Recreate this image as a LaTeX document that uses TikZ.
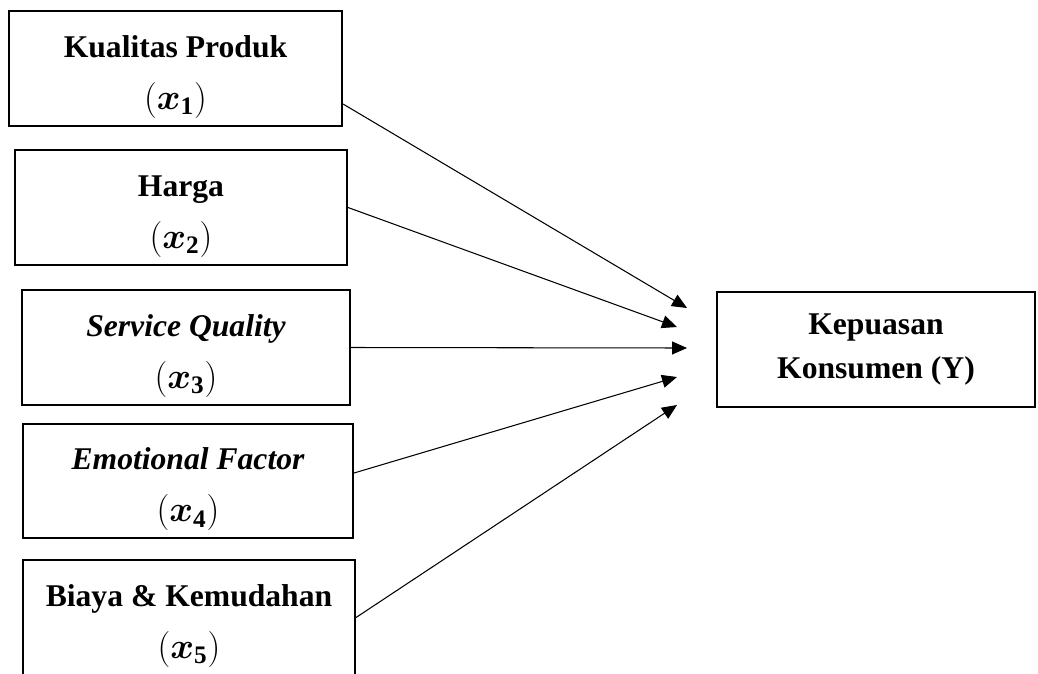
\RequirePackage{fix-cm}
\documentclass[tikz,border=0pt]{standalone}
\usepackage{amsmath}
\usepackage{fontspec}
\setmainfont{Liberation Serif}
\usetikzlibrary{arrows.meta}
\newcommand{\xvar}[1]{{\fontsize{20.5}{29.5}\selectfont$(\boldsymbol{x}_{\mathbf{#1}})$}}
\newcommand{\topstrut}{\rule{0pt}{22pt}}
\begin{document}
\begin{tikzpicture}[x=0.02cm,y=-0.02cm,font=\fontsize{18}{29.5}\selectfont\bfseries,
    varbox/.style={draw,line width=1.2pt,align=center,minimum height=2.3cm,inner sep=0pt},
    link/.style={line width=0.6pt,-{Triangle[length=3mm,width=2.6mm]}}]
  \useasboundingbox (0,0) rectangle (1038,673);
  \clip (0,0) rectangle (1038,673);
  \node[varbox,minimum width=6.66cm] (kualitas) at (175.5,68.5) {\topstrut Kualitas Produk\\\xvar{1}};
  \node[varbox,minimum width=6.64cm] (harga) at (181,207.5) {\topstrut Harga\\\xvar{2}};
  \node[varbox,minimum width=6.56cm] (service) at (186,347.5) {\topstrut\itshape Service Quality\\\xvar{3}};
  \node[varbox,minimum width=6.6cm,minimum height=2.28cm] (emosi) at (188,481) {\topstrut\itshape Emotional Factor\\\xvar{4}};
  \node[varbox,minimum width=6.64cm] (biaya) at (189,617.5) {\topstrut Biaya \& Kemudahan\\\xvar{5}};
  \node[varbox,minimum width=6.36cm,font=\fontsize{18}{25.5}\selectfont\bfseries] (kepuasan) at (876,349.5) {Kepuasan\\Konsumen (Y)};
  \coordinate (t1) at (687,308);
  \coordinate (t2) at (677,327);
  \coordinate (t3) at (687,348);
  \coordinate (t4) at (677,377);
  \coordinate (t5) at (677,405);
  \draw[link] ([yshift=-0.71cm]kualitas.east) -- (t1);
  \draw[link] (harga.east) -- (t2);
  \draw[link] (service.east) -- (t3);
  \draw[link] ([yshift=0.16cm]emosi.east) -- (t4);
  \draw[link] (biaya.east) -- (t5);
\end{tikzpicture}
\end{document}
